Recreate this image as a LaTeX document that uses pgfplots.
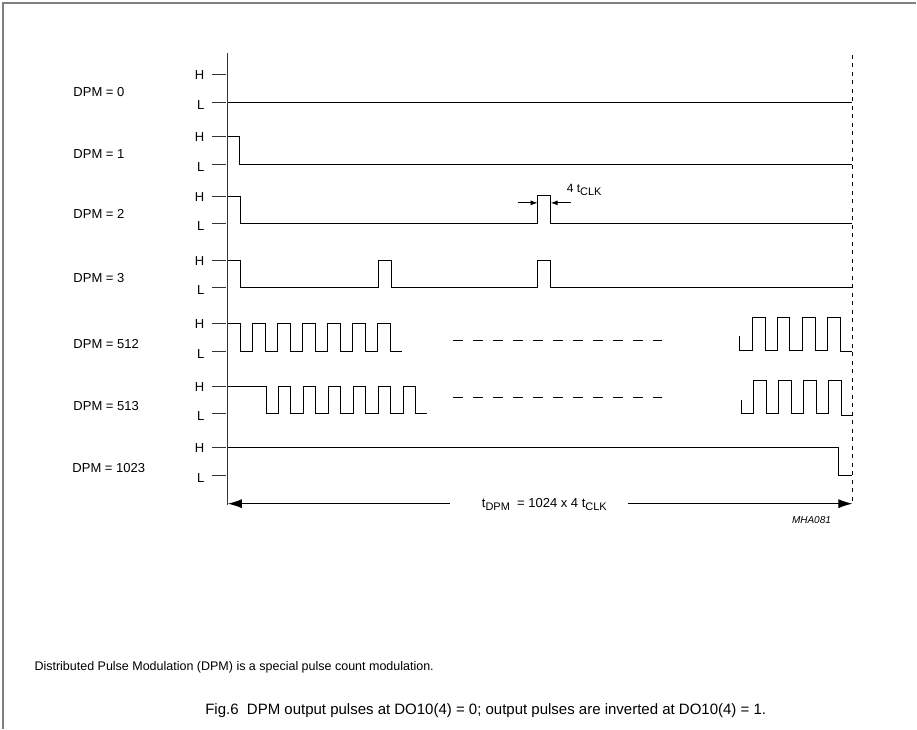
\documentclass[border=0pt]{standalone}
\usepackage{fontspec}
\setmainfont{Liberation Sans}
\usepackage{pgfplots}
\pgfplotsset{compat=1.18}
\usetikzlibrary{arrows.meta}

% 1 unit = 1 pixel of the reference, y running downwards
\newcommand{\sub}[1]{\raisebox{-0.45ex}{\fontsize{11}{11}\selectfont #1}}
\tikzset{
  wave/.style={black, line width=1.1pt, line join=miter},
  hltick/.style={black!80, line width=1pt},
  lab/.style={font=\fontsize{13}{15}\selectfont},
}

\begin{document}
\begin{tikzpicture}
\begin{axis}[
    scale only axis,
    width=917pt, height=729pt,
    xmin=0, xmax=917, ymin=0, ymax=729,
    y dir=reverse,
    hide axis,
    clip=false,
]
% keep the full page size
\addplot[draw=none] coordinates {(0,0) (917,729)};

% frame (top and left only)
\addplot[gray, line width=1.2pt] coordinates {(3,729) (3,3) (917,3)};

% time axis and end marker
\addplot[black!80, line width=1pt] coordinates {(228,53) (228,505)};
\addplot[black, line width=1pt, dash pattern=on 4pt off 4.5pt] coordinates {(853,55) (853,503)};

% H / L ticks for each row
\pgfplotsforeachungrouped \h/\l in {75/103, 137/165, 197/224, 261/288, 324/352, 387/414, 448/476}{
  \edef\temp{%
    \noexpand\addplot[hltick] coordinates {(212,\h) (226,\h)};
    \noexpand\addplot[hltick] coordinates {(212,\l) (226,\l)};
    \noexpand\node[anchor=east, lab] at (axis cs:208,\h) {H};
    \noexpand\node[anchor=east, lab] at (axis cs:208,\l+2) {L};
  }\temp
}

% row labels
\node[anchor=west, lab] at (axis cs:70,92) {DPM = 0};
\node[anchor=west, lab] at (axis cs:70,154) {DPM = 1};
\node[anchor=west, lab] at (axis cs:70,214) {DPM = 2};
\node[anchor=west, lab] at (axis cs:70,278) {DPM = 3};
\node[anchor=west, lab] at (axis cs:70,344) {DPM = 512};
\node[anchor=west, lab] at (axis cs:70,406) {DPM = 513};
\node[anchor=west, lab] at (axis cs:69,468) {DPM = 1023};

% DPM = 0
\addplot[wave] coordinates {(228,103) (853,103)};
% DPM = 1
\addplot[wave] coordinates {(228,137) (240,137) (240,165) (853,165)};
% DPM = 2
\addplot[wave] coordinates {(228,197) (241,197) (241,224) (538,224) (538,196) (551,196) (551,224) (853,224)};
% DPM = 3
\addplot[wave] coordinates {(228,261) (241,261) (241,288) (379,288) (379,261) (392,261) (392,288)
  (538,288) (538,261) (551,261) (551,288) (853,288)};
% DPM = 512
\addplot[wave] coordinates {(228,324) (241,324) (241,352) (253,352) (253,324) (266,324) (266,352)
  (278,352) (278,324) (291,324) (291,352) (303,352) (303,324) (316,324) (316,352) (328,352)
  (328,324) (341,324) (341,352) (353,352) (353,324) (366,324) (366,352) (378,352) (378,324)
  (391,324) (391,352) (402,352)};
\addplot[wave, line width=1pt, dash pattern=on 10pt off 10pt] coordinates {(453,341) (662,341)};
\addplot[wave] coordinates {(740,336) (740,351) (753,351) (753,318) (766,318) (766,351) (778,351)
  (778,318) (790,318) (790,351) (803,351) (803,318) (816,318) (816,351) (828,351) (828,318)
  (841,318) (841,352) (853,352)};
% DPM = 513
\addplot[wave] coordinates {(228,387) (267,387) (267,414) (279,414) (279,387) (291,387) (291,414)
  (304,414) (304,387) (316,387) (316,414) (329,414) (329,387) (341,387) (341,414) (354,414)
  (354,387) (366,387) (366,414) (379,414) (379,387) (391,387) (391,414) (404,414) (404,387)
  (416,387) (416,414) (427,414)};
\addplot[wave, line width=1pt, dash pattern=on 10pt off 10pt] coordinates {(453,398) (662,398)};
\addplot[wave] coordinates {(742,400) (742,414) (754,414) (754,381) (767,381) (767,414) (779,414)
  (779,381) (792,381) (792,414) (804,414) (804,381) (817,381) (817,414) (829,414) (829,381)
  (842,381) (842,416) (853,416)};
% DPM = 1023
\addplot[wave] coordinates {(228,448) (839,448) (839,476) (853,476)};

% pulse width marker 4 tCLK
\addplot[black, line width=0.9pt, -{Latex[length=7pt,width=5pt]}] coordinates {(518,203) (538,203)};
\addplot[black, line width=0.9pt, -{Latex[length=7pt,width=5pt]}] coordinates {(571,203) (551,203)};
\node[anchor=base west, font=\fontsize{12}{14}\selectfont, inner sep=0pt] at (axis cs:567,193) {4 t\sub{CLK}};

% period arrow tDPM
\addplot[black, line width=1pt, -{Latex[length=14pt,width=9pt]}] coordinates {(450,504) (228,504)};
\addplot[black, line width=1pt, -{Latex[length=14pt,width=9pt]}] coordinates {(628,504) (853,504)};
\node[anchor=base west, lab, inner sep=0pt] at (axis cs:482,508)
  {t\sub{DPM}\ \ = 1024 x 4 t\sub{CLK}};

\node[font=\fontsize{10}{12}\selectfont\itshape] at (axis cs:812,520) {MHA081};

% notes
\node[anchor=west, font=\fontsize{12.5}{14}\selectfont] at (axis cs:31,668)
  {Distributed Pulse Modulation (DPM) is a special pulse count modulation.};
\node[font=\fontsize{15}{17}\selectfont] at (axis cs:486,711)
  {Fig.6\ \ DPM output pulses at DO10(4) = 0; output pulses are inverted at DO10(4) = 1.};
\end{axis}
\end{tikzpicture}
\end{document}
